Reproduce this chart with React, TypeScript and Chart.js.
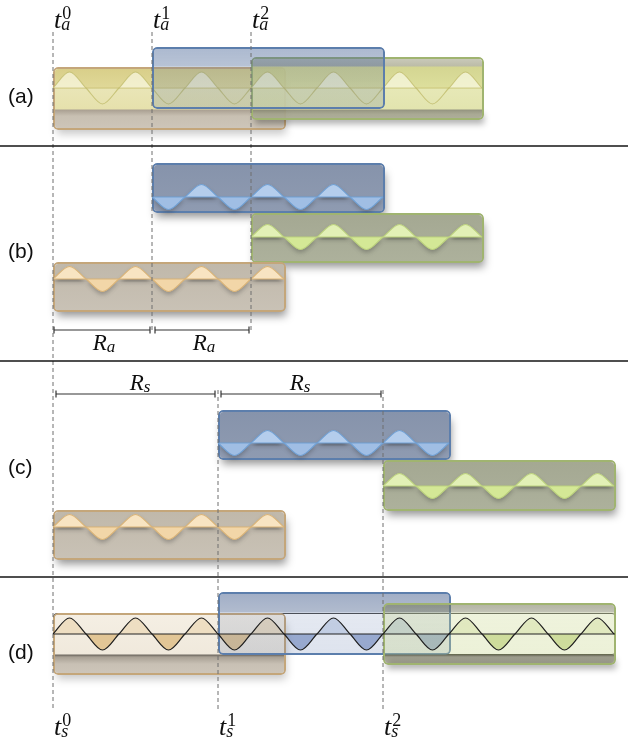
import React, { useEffect, useRef } from 'react';
import { Chart, registerables } from 'chart.js';

// Plugin registered before the built-ins so its blur filter is active when the filler paints.
const softBlur = {
  id: 'softBlur',
  beforeDatasetDraw(chart: any, args: any) {
    const ds: any = chart.data.datasets[args.index];
    if (ds && ds.blur) {
      chart.ctx.save();
      chart.ctx.filter = `blur(${ds.blur}px)`;
    }
  },
  afterDatasetDraw(chart: any, args: any) {
    const ds: any = chart.data.datasets[args.index];
    if (ds && ds.blur) chart.ctx.restore();
  },
};
Chart.register(softBlur);
Chart.register(...registerables);

const W = 628;
const H = 745;

// ---------------- data ----------------
// frame start instants on the horizontal axis (frames: tan, blue, green)
const analysisStarts = [53, 152, 251]; // t_a^0, t_a^1, t_a^2
const synthesisStarts = [53, 218, 383]; // t_s^0, t_s^1, t_s^2
const frameLength = 233;
const signalOrigin = 53;
const signalPeriod = 66;

// (a) overlapping analysis frames
const aTops = [67, 47, 57];
const aBottoms = [130, 109, 120];
const aStrip = [67, 110];
const aCenter = 88;
const aAmp = 16;
const aSignalEnd = 482;

// (b) analysis frames separated
const bTops = [262, 163, 213];
const bBottoms = [312, 213, 263];
const bCenters = [279, 197, 237];

// (c) frames moved to synthesis instants
const cTops = [510, 410, 460];
const cBottoms = [560, 460, 511];
const cCenters = [527, 443, 486];
const frameAmp = 12.5;

// (d) overlap-added synthesis frames
const dTops = [613, 592, 603];
const dBottoms = [675, 655, 665];
const dStrip = [613, 655];
const dCenter = 634;
const dAmp = 16;
const dSignalEnd = 614;

const separatorYs = [146, 361, 577];
const panelLabels = ['(a)', '(b)', '(c)', '(d)'];
const panelLabelYs = [97, 252, 468, 653];
const panelLabelX = 8;

const timeSups = ['0', '1', '2'];
const analysisSub = 'a';
const synthesisSub = 's';
const analysisLabelY = 28;
const synthesisLabelY = 735;
const originGuide = [32, 710];
const analysisGuide = [32, 333];
const synthesisGuide = [390, 710];

const raRanges = [[54, 150], [155, 249]];
const raY = 330;
const raLabelX = [104, 204];
const raLabelY = 350;
const rsRanges = [[56, 215], [221, 381]];
const rsY = 394;
const rsLabelX = [140, 300];
const rsLabelY = 390;

// ---------------- styles ----------------
const P: any = {
  tan: { border: 'rgb(196,166,122)', top: 'rgb(192,184,170)', bottom: 'rgb(201,194,182)', line: 'rgb(218,180,120)', above: 'rgb(248,228,194)', below: 'rgb(242,214,168)' },
  blue: { border: 'rgb(92,126,172)', top: 'rgb(134,147,171)', bottom: 'rgb(143,155,177)', line: 'rgb(112,160,212)', above: 'rgb(180,205,236)', below: 'rgb(160,190,228)' },
  green: { border: 'rgb(160,180,112)', top: 'rgb(164,168,146)', bottom: 'rgb(173,177,156)', line: 'rgb(188,210,126)', above: 'rgb(226,240,182)', below: 'rgb(212,232,150)' },
};
const names = ['tan', 'blue', 'green'];

function vGrad(stops: [number, string][]) {
  return (c: any) => {
    const chart = c.chart;
    const ys = chart.scales && chart.scales.y;
    const yA = stops[0][0];
    const yB = stops[stops.length - 1][0];
    if (!ys) return stops[0][1];
    const p0 = ys.getPixelForValue(yA);
    const p1 = ys.getPixelForValue(yB);
    if (!isFinite(p0) || !isFinite(p1) || p0 === p1) return stops[0][1];
    const g = chart.ctx.createLinearGradient(0, p0, 0, p1);
    for (const [y, col] of stops) g.addColorStop(Math.min(1, Math.max(0, (y - yA) / (yB - yA))), col);
    return g;
  };
}

function wavePts(x0: number, x1: number, yc: number, amp: number) {
  const q = signalPeriod / 4;
  const k0 = Math.round((x0 - signalOrigin) / q);
  const k1 = Math.round((x1 - signalOrigin) / q);
  const pts: any[] = [];
  for (let k = k0; k <= k1; k++) {
    const ph = ((k % 4) + 4) % 4;
    pts.push({ x: signalOrigin + k * q, y: yc + (ph === 1 ? -amp : ph === 3 ? amp : 0) });
  }
  return pts;
}

function buildDatasets() {
  const L: any[] = [];
  const add = (d: any) => L.push(d);
  const bar = (x0: number, x1: number, y0: number, y1: number, bg: any, border: string, bw = 2, radius = 5) =>
    add({
      type: 'bar', indexAxis: 'y', data: [{ x: [x0, x1], y: (y0 + y1) / 2 }], barThickness: y1 - y0,
      grouped: false, backgroundColor: bg, borderColor: border, borderWidth: bw, borderRadius: radius,
      borderSkipped: false, inflateAmount: 0,
    });
  const line = (pts: any[], color: string, width: number, extra: any = {}) =>
    add({ type: 'line', data: pts, borderColor: color, backgroundColor: color, borderWidth: width, pointRadius: 0, pointHoverRadius: 0, fill: false, tension: 0, ...extra });
  const shadow = (x0: number, x1: number, y0: number, y1: number, alpha: number, blur: number) =>
    line([{ x: x0, y: (y0 + y1) / 2 }, { x: x1, y: (y0 + y1) / 2 }], `rgba(0,0,0,${alpha})`, y1 - y0, { blur, borderCapStyle: 'butt' });
  const waveFill = (pts: any[], yc: number, above: string, below: string, extra: any = {}) =>
    line(pts, 'rgba(0,0,0,0)', 0, { cubicInterpolationMode: 'monotone', fill: { target: { value: yc }, above, below }, backgroundColor: above, ...extra });
  const waveLine = (pts: any[], color: string, width: number) => line(pts, color, width, { cubicInterpolationMode: 'monotone' });

  // ---- (a)
  {
    const [s0, s1, s2] = analysisStarts;
    shadow(s0 + 4, s0 + frameLength, aTops[0] + 10, aBottoms[0] + 4, 0.22, 4);
    bar(s0, s0 + frameLength, aTops[0], aBottoms[0], vGrad([
      [aStrip[0], 'rgb(216,206,136)'], [aCenter, 'rgb(224,216,152)'], [aCenter + 1, 'rgb(233,229,182)'],
      [aStrip[1] - 1, 'rgb(230,225,172)'], [aStrip[1], 'rgb(170,160,146)'], [aStrip[1] + 6, 'rgb(200,192,178)'], [aBottoms[0], 'rgb(206,198,186)'],
    ]), P.tan.border);
    shadow(s2 + 4, s2 + frameLength, aBottoms[2] - 6, aBottoms[2] + 4, 0.3, 3);
    bar(s2, s2 + frameLength, aTops[2], aBottoms[2], vGrad([
      [aTops[2], 'rgba(200,200,184,0.92)'], [aStrip[0] - 1, 'rgba(182,182,160,0.92)'], [aStrip[0], 'rgba(208,210,136,0.92)'],
      [aCenter, 'rgba(218,220,148,0.92)'], [aCenter + 1, 'rgba(228,230,176,0.92)'], [aStrip[1] - 1, 'rgba(224,226,168,0.92)'],
      [aStrip[1], 'rgba(140,140,118,0.92)'], [aStrip[1] + 4, 'rgba(165,165,142,0.92)'], [aBottoms[2], 'rgba(176,176,155,0.92)'],
    ]), P.green.border);
    const pts = wavePts(s0, aSignalEnd, aCenter, aAmp);
    waveFill(pts, aCenter, 'rgba(255,255,242,0.6)', 'rgba(255,255,255,0)');
    line([{ x: s0, y: aCenter }, { x: aSignalEnd, y: aCenter }], 'rgba(196,190,112,0.7)', 1);
    waveLine(pts, 'rgba(192,188,108,0.8)', 1.1);
    bar(s1, s1 + frameLength, aTops[1], aBottoms[1], vGrad([
      [aTops[1], 'rgba(70,100,150,0.45)'], [aStrip[0] - 1, 'rgba(76,104,150,0.4)'], [aStrip[0], 'rgba(90,115,152,0.24)'], [aBottoms[1], 'rgba(90,115,152,0.2)'],
    ]), P.blue.border);
  }

  // ---- (b) and (c)
  const framed = (starts: number[], tops: number[], bottoms: number[], centers: number[]) => {
    for (const i of [1, 2, 0]) {
      const c = P[names[i]];
      const x0 = starts[i];
      const x1 = x0 + frameLength;
      shadow(x0 + 4, x1, tops[i] + 10, bottoms[i] + 4, 0.42, 4);
      bar(x0, x1, tops[i], bottoms[i], vGrad([[tops[i], c.top], [bottoms[i], c.bottom]]), c.border);
      const pts = wavePts(x0, x0 + 3.5 * signalPeriod, centers[i], frameAmp);
      const sh = pts.map((p: any) => ({ x: p.x, y: p.y + 3 }));
      waveFill(sh, centers[i] + 3, 'rgba(40,40,40,0.45)', 'rgba(40,40,40,0.3)', { blur: 2 });
      waveFill(pts, centers[i], c.above, c.below);
      line([{ x: x0 + 1, y: centers[i] }, { x: x0 + 3.5 * signalPeriod, y: centers[i] }], c.line, 1.2);
      waveLine(pts, c.line, 1.2);
    }
  };
  framed(analysisStarts, bTops, bBottoms, bCenters);
  framed(synthesisStarts, cTops, cBottoms, cCenters);

  // ---- (d)
  {
    const [s0, s1, s2] = synthesisStarts;
    bar(s0, dSignalEnd + 2, dStrip[0], dStrip[1], 'rgba(0,0,0,0)', 'rgba(45,45,45,0.85)', 1, 4);
    shadow(s0 + 4, s0 + frameLength, dTops[0] + 10, dBottoms[0] + 4, 0.22, 4);
    bar(s0, s0 + frameLength, dTops[0], dBottoms[0], vGrad([
      [dStrip[0], 'rgb(245,239,228)'], [dStrip[1] - 1, 'rgb(240,233,220)'], [dStrip[1], 'rgb(110,104,96)'],
      [dStrip[1] + 2, 'rgb(168,160,148)'], [dStrip[1] + 9, 'rgb(200,192,180)'], [dBottoms[0], 'rgb(206,198,186)'],
    ]), P.tan.border);
    waveFill(wavePts(s0, s0 + 3.5 * signalPeriod, dCenter, dAmp), dCenter, 'rgb(238,222,194)', 'rgb(226,198,150)');
    bar(s1, s1 + frameLength, dTops[1], dBottoms[1], vGrad([
      [dTops[1], 'rgba(66,92,140,0.5)'], [dStrip[0] - 1, 'rgba(70,95,140,0.42)'], [dStrip[0], 'rgba(70,100,160,0.14)'], [dBottoms[1], 'rgba(70,100,160,0.18)'],
    ]), P.blue.border);
    waveFill(wavePts(s0 + 3.5 * signalPeriod, s1 + 3.5 * signalPeriod, dCenter, dAmp), dCenter, 'rgba(120,145,195,0.3)', 'rgba(80,110,175,0.5)');
    shadow(s2 + 4, s2 + frameLength, dBottoms[2] - 5, dBottoms[2] + 4, 0.3, 3);
    bar(s2, s2 + frameLength, dTops[2], dBottoms[2], vGrad([
      [dTops[2], 'rgba(110,112,82,0.55)'], [dStrip[0] - 1, 'rgba(120,122,92,0.45)'], [dStrip[0], 'rgba(200,215,140,0.3)'],
      [dStrip[1] - 1, 'rgba(200,215,140,0.34)'], [dStrip[1], 'rgba(60,60,40,0.75)'], [dStrip[1] + 2, 'rgba(100,100,72,0.6)'], [dBottoms[2], 'rgba(120,120,92,0.52)'],
    ]), P.green.border);
    waveFill(wavePts(s1 + 3.5 * signalPeriod, dSignalEnd, dCenter, dAmp), dCenter, 'rgba(200,215,140,0.35)', 'rgba(175,200,95,0.5)');
    const pts = wavePts(s0, dSignalEnd, dCenter, dAmp);
    line([{ x: s0, y: dCenter }, { x: dSignalEnd + 1, y: dCenter }], 'rgb(35,35,35)', 1.1);
    waveLine(pts, 'rgb(30,30,30)', 1.2);
  }

  // ---- guides, separators, brackets
  const dash = { borderDash: [4, 3] };
  line([{ x: analysisStarts[0], y: originGuide[0] }, { x: analysisStarts[0], y: originGuide[1] }], 'rgb(110,110,110)', 1, dash);
  for (const x of analysisStarts.slice(1)) line([{ x, y: analysisGuide[0] }, { x, y: analysisGuide[1] }], 'rgb(110,110,110)', 1, dash);
  for (const x of synthesisStarts.slice(1)) line([{ x, y: synthesisGuide[0] }, { x, y: synthesisGuide[1] }], 'rgb(110,110,110)', 1, dash);
  for (const y of separatorYs) line([{ x: 0, y }, { x: W, y }], 'rgb(20,20,20)', 1.3);
  const tick = { pointStyle: 'line', pointRadius: 3.5, rotation: 90, pointBorderColor: 'rgb(50,50,50)', pointBorderWidth: 1.2 };
  for (const [a, b] of raRanges) line([{ x: a, y: raY }, { x: b, y: raY }], 'rgb(50,50,50)', 1.2, tick);
  for (const [a, b] of rsRanges) line([{ x: a, y: rsY }, { x: b, y: rsY }], 'rgb(50,50,50)', 1.2, tick);

  const n = L.length;
  L.forEach((d, i) => { d.order = n - i; });
  return L;
}

const SERIF = '"Liberation Serif", "DejaVu Serif", serif';
const textPlugin = {
  id: 'diagramText',
  afterDraw(chart: any) {
    const { ctx } = chart;
    const xs = chart.scales.x;
    const ys = chart.scales.y;
    const X = (v: number) => xs.getPixelForValue(v);
    const Y = (v: number) => ys.getPixelForValue(v);
    ctx.save();
    ctx.fillStyle = 'rgb(15,15,15)';
    ctx.textAlign = 'left';
    ctx.textBaseline = 'middle';
    ctx.font = '21px "Liberation Sans", Arial, sans-serif';
    panelLabels.forEach((t, i) => ctx.fillText(t, X(panelLabelX), Y(panelLabelYs[i])));
    ctx.textBaseline = 'alphabetic';
    const timeLabel = (x: number, base: number, sup: string, sub: string) => {
      ctx.font = `italic 26px ${SERIF}`;
      ctx.fillText('t', X(x) + 1, Y(base));
      const w = ctx.measureText('t').width;
      ctx.font = `18px ${SERIF}`;
      ctx.fillText(sup, X(x) + 1 + w + 1, Y(base) - 9);
      ctx.font = `italic 18px ${SERIF}`;
      ctx.fillText(sub, X(x) + 1 + w, Y(base) + 2);
    };
    analysisStarts.forEach((x, i) => timeLabel(x, analysisLabelY, timeSups[i], analysisSub));
    synthesisStarts.forEach((x, i) => timeLabel(x, synthesisLabelY, timeSups[i], synthesisSub));
    const rangeLabel = (cx: number, base: number, sub: string) => {
      ctx.font = `italic 23px ${SERIF}`;
      const wr = ctx.measureText('R').width;
      ctx.font = `italic 17px ${SERIF}`;
      const ws = ctx.measureText(sub).width;
      const left = X(cx) - (wr + ws) / 2;
      ctx.font = `italic 23px ${SERIF}`;
      ctx.fillText('R', left, Y(base));
      ctx.font = `italic 17px ${SERIF}`;
      ctx.fillText(sub, left + wr, Y(base) + 2);
    };
    raLabelX.forEach((x) => rangeLabel(x, raLabelY, analysisSub));
    rsLabelX.forEach((x) => rangeLabel(x, rsLabelY, synthesisSub));
    ctx.restore();
  },
};

export default function App() {
  const ref = useRef<HTMLCanvasElement>(null);
  useEffect(() => {
    const canvas = ref.current;
    if (!canvas) return;
    const chart = new Chart(canvas, {
      type: 'line',
      data: { datasets: buildDatasets() },
      options: {
        animation: false,
        responsive: false,
        maintainAspectRatio: false,
        devicePixelRatio: 1,
        events: [],
        layout: { padding: 0, autoPadding: false },
        plugins: { legend: { display: false }, tooltip: { enabled: false }, colors: { enabled: false }, title: { display: false } },
        scales: {
          x: { type: 'linear', min: 0, max: W, display: false, offset: false },
          y: { type: 'linear', min: 0, max: H, reverse: true, display: false, offset: false },
        },
      } as any,
      plugins: [textPlugin],
    } as any);
    return () => chart.destroy();
  }, []);
  return (
    <div style={{ position: 'fixed', left: 0, top: 0, width: W, height: H, background: '#fff' }}>
      <canvas ref={ref} width={W} height={H} style={{ display: 'block', width: W, height: H }} />
    </div>
  );
}
